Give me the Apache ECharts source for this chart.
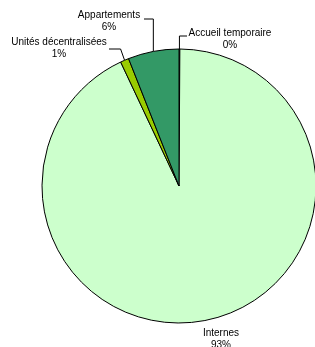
<!DOCTYPE html>
<html><head><meta charset="utf-8">
<script src="https://cdn.jsdelivr.net/npm/echarts@6/dist/echarts.min.js"></script>
<style>html,body{margin:0;padding:0;background:#fff}#c{width:315px;height:347px}</style>
</head><body><div id="c"></div>
<script>
const categories = ['Accueil temporaire', 'Internes', 'Unités décentralisées', 'Appartements'];
const values = [0.1, 92.9, 1.0, 6.0];
const colors = ['#339966', '#CCFFCC', '#99CC00', '#339966'];

// label placement (layout only): text block centre, leader elbow y, leader end x
const labelPlace = [
  {x: 230, y: 39, lineY: 36, endX: 187},
  {x: 221, y: 339, lineY: null, endX: null},
  {x: 59, y: 48, lineY: 49, endX: 109},
  {x: 109, y: 21, lineY: 19, endX: 144}
];

const chart = echarts.init(document.getElementById('c'), null, {renderer: 'canvas'});
chart.setOption({
  animation: false,
  series: [{
    type: 'pie',
    center: [179, 186],
    radius: 137,
    startAngle: 90,
    clockwise: true,
    percentPrecision: 0,
    avoidLabelOverlap: false,
    itemStyle: {borderColor: '#000', borderWidth: 1},
    label: {
      show: true,
      formatter: '{b}\n{d}%',
      fontFamily: 'Liberation Sans, Arial, sans-serif',
      fontSize: 10,
      color: '#000',
      lineHeight: 12,
      align: 'center'
    },
    labelLine: {show: true, length: 10, length2: 10, lineStyle: {color: '#000', width: 1}},
    labelLayout: function (params) {
      const p = labelPlace[params.dataIndex];
      const out = {x: p.x, y: p.y, align: 'center', verticalAlign: 'middle', hideOverlap: false};
      if (p.lineY !== null && params.labelLinePoints) {
        const s = params.labelLinePoints[0];
        out.labelLinePoints = [[s[0], s[1]], [s[0] + (params.dataIndex === 2 ? -4 : 0), p.lineY], [p.endX, p.lineY]];
      }
      return out;
    },
    data: categories.map((n, i) => ({
      name: n, value: values[i], itemStyle: {color: colors[i]},
      labelLine: i === 1 ? {show: false} : undefined
    }))
  }]
});
</script></body></html>
